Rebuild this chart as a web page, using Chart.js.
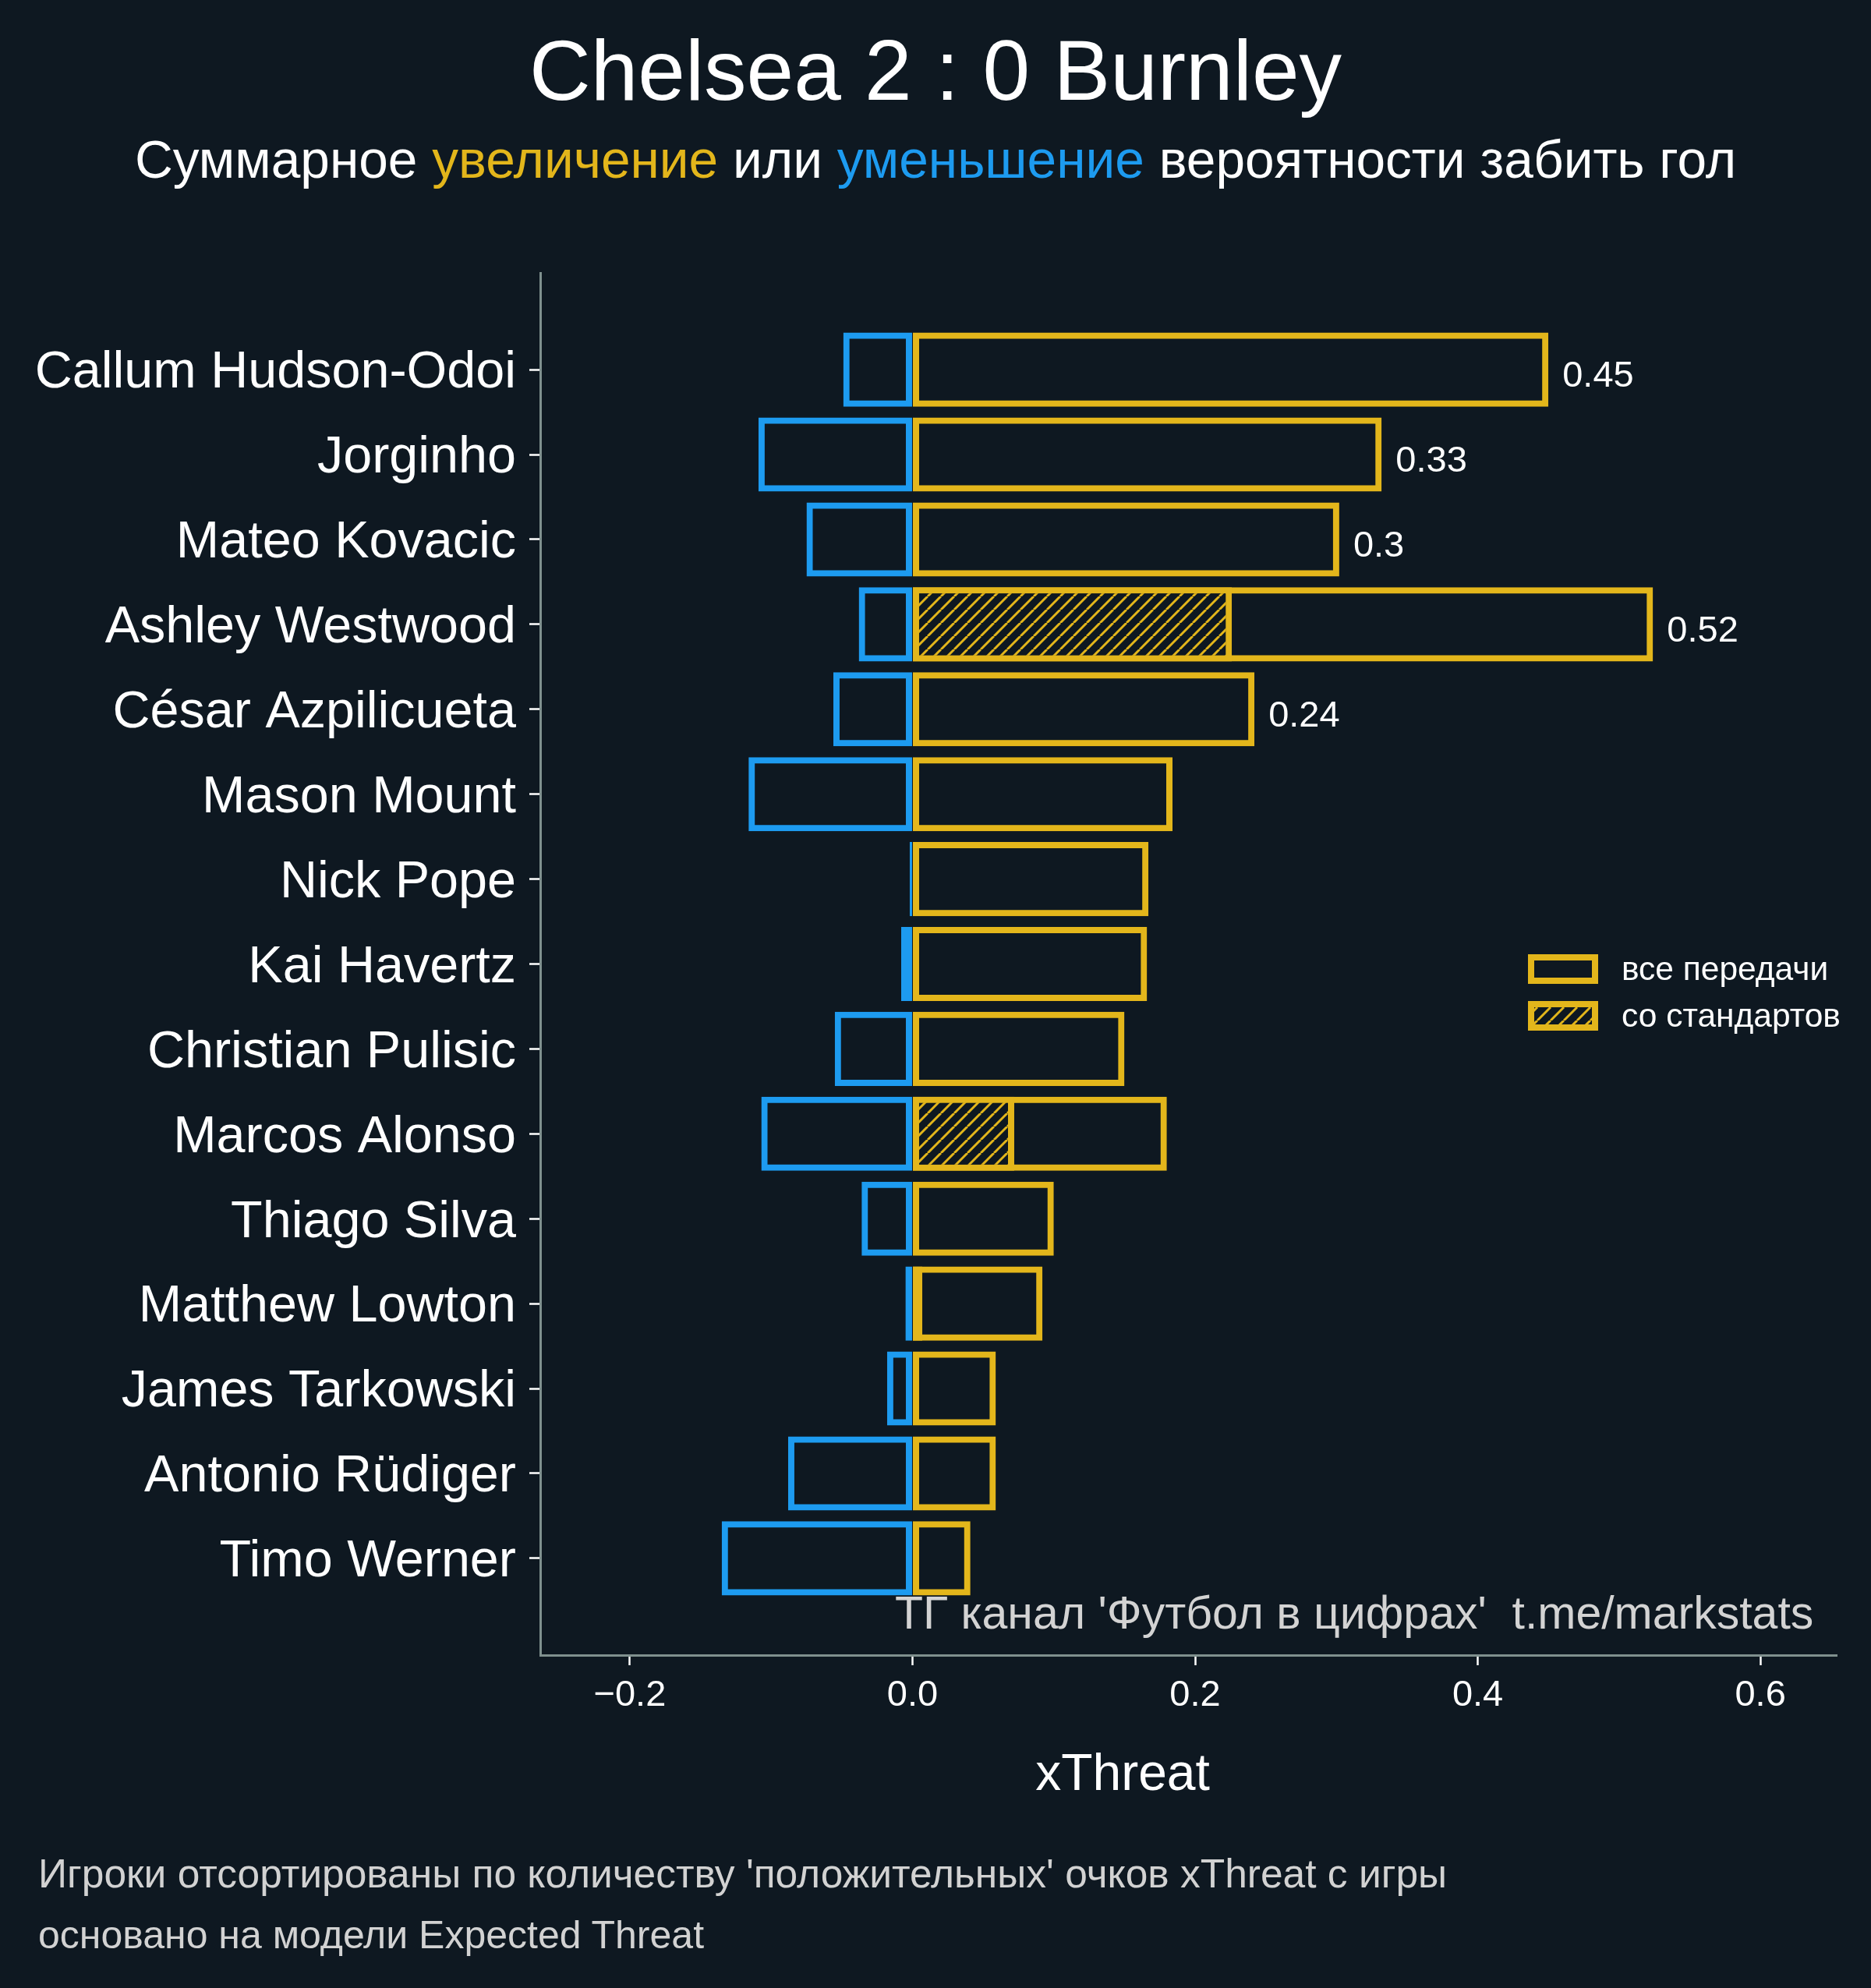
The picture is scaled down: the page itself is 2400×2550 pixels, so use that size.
<!DOCTYPE html>
<html><head><meta charset="utf-8">
<script src="https://cdn.jsdelivr.net/npm/chart.js@4.4.1/dist/chart.umd.min.js"></script>
<style>
html,body{margin:0;padding:0;background:#0e1821;}
#wrap{position:relative;width:2400px;height:2550px;overflow:hidden;background:#0e1821;font-family:'Liberation Sans',Arial,sans-serif;}
#c{position:absolute;left:0;top:0;}
.t{position:absolute;line-height:1;white-space:pre;margin:0;}
</style></head><body>
<div id="wrap">
<canvas id="c" width="2400" height="2550"></canvas>
<div class="t" style="left:0;width:2400px;text-align:center;top:36px;font-size:109px;color:#fff">Chelsea 2 : 0 Burnley</div>
<div class="t" style="left:0;width:2400px;text-align:center;top:171px;font-size:67.6px;color:#fff">Суммарное <span style="color:#E3B61B">увеличение</span> или <span style="color:#1D9BF0">уменьшение</span> вероятности забить гол</div>
<div class="t" style="left:1148px;top:2040px;font-size:59px;color:#d3d3d3">ТГ канал 'Футбол в цифрах'  t.me/markstats</div>
<div class="t" style="left:1140px;width:600px;text-align:center;top:2240px;font-size:66px;color:#fff">xThreat</div>
<div class="t" style="left:49px;top:2378px;font-size:51.5px;color:#d2d2d2">Игроки отсортированы по количеству 'положительных' очков xThreat с игры</div>
<div class="t" style="left:49px;top:2457px;font-size:50px;color:#d2d2d2">основано на модели Expected Threat</div>
</div>
<script>
const players = ['Callum Hudson-Odoi','Jorginho','Mateo Kovacic','Ashley Westwood','César Azpilicueta','Mason Mount','Nick Pope','Kai Havertz','Christian Pulisic','Marcos Alonso','Thiago Silva','Matthew Lowton','James Tarkowski','Antonio Rüdiger','Timo Werner'];
const positive = [0.450, 0.332, 0.302, 0.524, 0.242, 0.184, 0.167, 0.166, 0.150, 0.180, 0.100, 0.092, 0.059, 0.059, 0.041];
const negative = [-0.049, -0.109, -0.075, -0.038, -0.056, -0.116, -0.002, -0.008, -0.055, -0.107, -0.036, -0.005, -0.018, -0.088, -0.135];
const setPieces = [null, null, null, 0.226, null, null, null, null, null, 0.072, null, 0.007, null, null, null];
const xTicks = [-0.2, 0.0, 0.2, 0.4, 0.6];
const legendLabels = ['все передачи', 'со стандартов'];

const BG = '#0e1821', YELLOW = '#E3B61B', BLUE = '#1D9BF0', SPINE = '#7f908e';
const FONT = "'Liberation Sans', Arial, sans-serif";
Chart.defaults.font.family = FONT;
Chart.defaults.color = '#ffffff';

function makeHatch() {
  const s = 17, c = document.createElement('canvas');
  c.width = s; c.height = s;
  const g = c.getContext('2d');
  g.fillStyle = BG; g.fillRect(0, 0, s, s);
  g.strokeStyle = YELLOW; g.lineWidth = 3;
  g.beginPath();
  for (const k of [-1, 0, 1]) { g.moveTo(k * s, s); g.lineTo(k * s + s, 0); }
  g.stroke();
  return g.createPattern(c, 'repeat');
}
const ctx = document.getElementById('c').getContext('2d');
const hatch = makeHatch();
const toPoints = arr => arr.map((v, i) => ({x: v, y: i})).filter(p => p.x !== null);

const valueLabels = {
  id: 'valueLabels',
  afterDatasetsDraw(chart) {
    const meta = chart.getDatasetMeta(0), c = chart.ctx;
    c.save();
    c.font = '47px ' + FONT; c.fillStyle = '#fff';
    c.textAlign = 'left'; c.textBaseline = 'middle';
    meta.data.forEach((el, i) => {
      const v = positive[i];
      if (v > 0.2) c.fillText(String(Number(v.toFixed(2))), el.x + 18, el.y + 9);
    });
    c.restore();
  }
};
const customLegend = {
  id: 'customLegend',
  afterDraw(chart) {
    const c = chart.ctx, a = chart.chartArea;
    const x0 = a.right - 396, y0 = a.top + 874, w = 90, h = 38, gap = 60;
    c.save();
    [BG, hatch].forEach((fill, k) => {
      const y = y0 + k * gap;
      c.fillStyle = fill; c.fillRect(x0, y, w, h);
      c.strokeStyle = YELLOW; c.lineWidth = 8;
      c.strokeRect(x0 + 4, y + 4, w - 8, h - 8);
      c.fillStyle = '#fff'; c.font = '42.5px ' + FONT;
      c.textAlign = 'left'; c.textBaseline = 'middle';
      c.fillText(legendLabels[k], x0 + 120, y + h / 2 + 2);
    });
    c.restore();
  }
};

new Chart(ctx, {
  type: 'bar',
  data: {
    datasets: [
      {label: legendLabels[0], data: toPoints(positive), backgroundColor: 'rgba(0,0,0,0)', borderColor: YELLOW, order: 2},
      {label: legendLabels[1], data: toPoints(setPieces), backgroundColor: hatch, borderColor: YELLOW, order: 1},
      {label: 'negative', data: toPoints(negative), backgroundColor: 'rgba(0,0,0,0)', borderColor: BLUE, order: 3}
    ]
  },
  options: {
    indexAxis: 'y', responsive: false, animation: false, devicePixelRatio: 1,
    datasets: {bar: {barPercentage: 0.873, categoryPercentage: 1, grouped: false, borderWidth: 8, borderSkipped: false}},
    layout: {padding: {left: 0, top: 350, right: 44, bottom: 0}},
    plugins: {legend: {display: false}, tooltip: {enabled: false}, title: {display: false}},
    scales: {
      x: {
        type: 'linear', min: -0.2634, max: 0.654, position: 'bottom',
        afterFit: s => { s.height = 427; },
        afterBuildTicks: s => { s.ticks = xTicks.map(v => ({value: v})); },
        ticks: {color: '#fff', font: {size: 47}, padding: 11,
          callback: v => (v < 0 ? '\u2212' : '') + Math.abs(v).toFixed(1)},
        grid: {display: true, drawOnChartArea: false, drawTicks: true, tickLength: 13, tickColor: '#fff', tickWidth: 2.5, offset: false},
        border: {display: true, color: SPINE, width: 3},
        title: {display: false}
      },
      y: {
        type: 'linear', reverse: true, min: -1.14, max: 15.14, offset: false,
        afterFit: s => { s.width = 693; },
        afterBuildTicks: s => { s.ticks = players.map((_, i) => ({value: i})); },
        ticks: {color: '#fff', font: {size: 66.5}, padding: 17, labelOffset: 5, callback: v => players[v]},
        grid: {display: true, drawOnChartArea: false, drawTicks: true, tickLength: 14, tickColor: '#fff', tickWidth: 2.5, offset: false},
        border: {display: true, color: SPINE, width: 3}
      }
    }
  },
  plugins: [valueLabels, customLegend]
});
</script>
</body></html>
